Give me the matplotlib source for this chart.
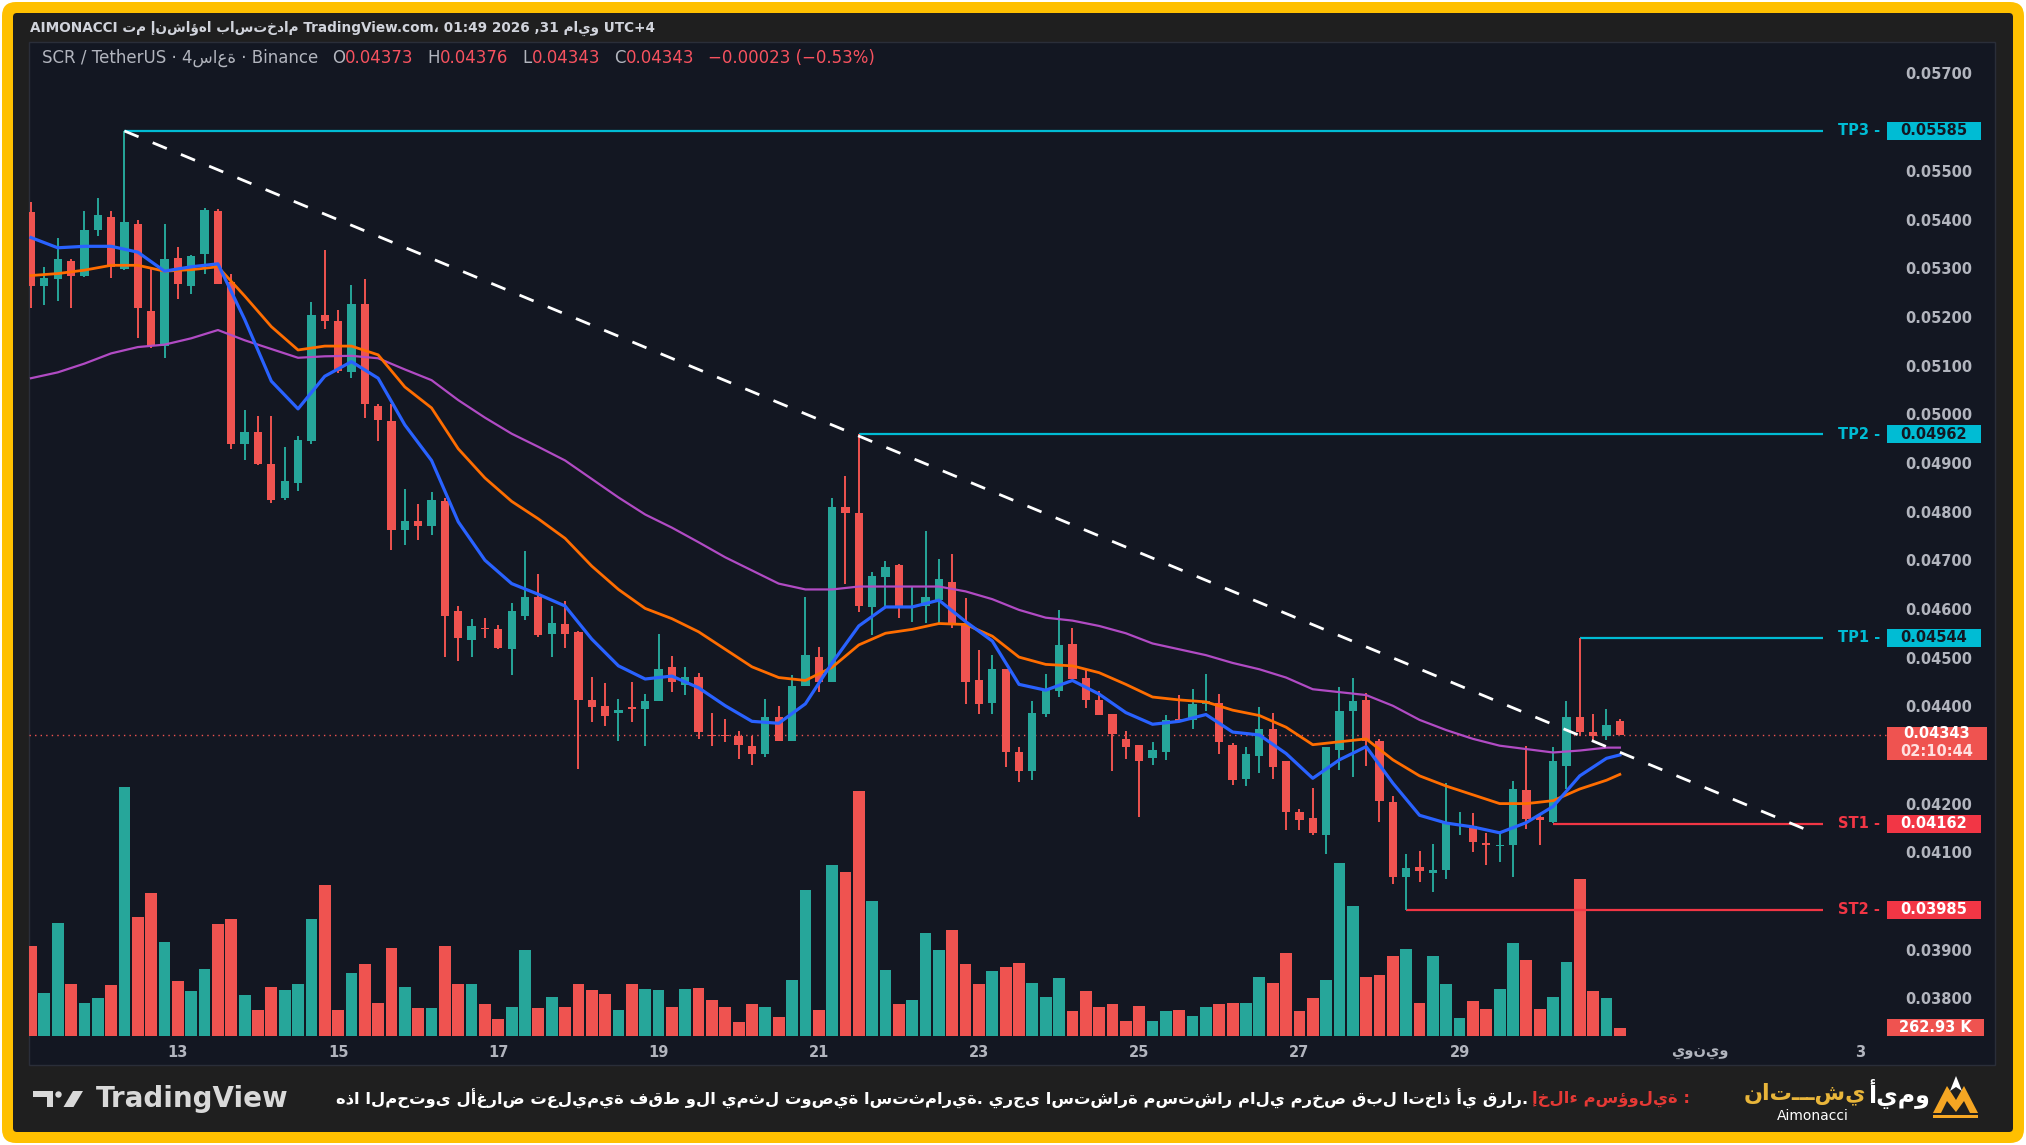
import matplotlib
matplotlib.use("Agg")
import matplotlib.pyplot as plt
import matplotlib.transforms as mtransforms
from matplotlib.patches import Rectangle, FancyBboxPatch, Polygon, Circle
import numpy as np

# ---------------- data (4h candles, SCR/USDT) ----------------
opens = [
    0.05418, 0.05266, 0.05280, 0.05318, 0.05288, 0.05381, 0.05409, 0.05301, 0.05393, 0.05216,
    0.05143, 0.05323, 0.05266, 0.05333, 0.05421, 0.05274, 0.04942, 0.04967, 0.04901, 0.04830,
    0.04862, 0.04947, 0.05207, 0.05194, 0.05089, 0.05230, 0.05019, 0.04989, 0.04766, 0.04783,
    0.04773, 0.04824, 0.04598, 0.04540, 0.04564, 0.04561, 0.04520, 0.04588, 0.04627, 0.04551,
    0.04573, 0.04555, 0.04416, 0.04404, 0.04389, 0.04402, 0.04398, 0.04414, 0.04484, 0.04447,
    0.04464, 0.04344, 0.04344, 0.04341, 0.04322, 0.04305, 0.04380, 0.04332, 0.04444, 0.04505,
    0.04452, 0.04812, 0.04800, 0.04607, 0.04669, 0.04693, 0.04607, 0.04609, 0.04621, 0.04658,
    0.04574, 0.04456, 0.04410, 0.04479, 0.04310, 0.04269, 0.04387, 0.04435, 0.04531, 0.04462,
    0.04416, 0.04387, 0.04335, 0.04323, 0.04297, 0.04310, 0.04377, 0.04375, 0.04408, 0.04410,
    0.04323, 0.04254, 0.04301, 0.04357, 0.04291, 0.04186, 0.04173, 0.04139, 0.04314, 0.04393,
    0.04416, 0.04332, 0.04206, 0.04052, 0.04072, 0.04061, 0.04066, 0.04157, 0.04157, 0.04122,
    0.04115, 0.04118, 0.04230, 0.04175, 0.04166, 0.04281, 0.04381, 0.04351, 0.04341, 0.04373,
]
highs = [
    0.05439, 0.05306, 0.05366, 0.05321, 0.05421, 0.05447, 0.05421, 0.05585, 0.05402, 0.05302,
    0.05393, 0.05347, 0.05330, 0.05427, 0.05424, 0.05292, 0.05011, 0.04999, 0.04999, 0.04936,
    0.04959, 0.05234, 0.05340, 0.05218, 0.05269, 0.05281, 0.05025, 0.05025, 0.04850, 0.04819,
    0.04843, 0.04830, 0.04609, 0.04582, 0.04585, 0.04570, 0.04615, 0.04721, 0.04675, 0.04609,
    0.04619, 0.04558, 0.04464, 0.04450, 0.04417, 0.04453, 0.04428, 0.04552, 0.04506, 0.04484,
    0.04471, 0.04389, 0.04377, 0.04353, 0.04341, 0.04417, 0.04404, 0.04468, 0.04628, 0.04525,
    0.04830, 0.04876, 0.04962, 0.04679, 0.04701, 0.04695, 0.04649, 0.04763, 0.04705, 0.04715,
    0.04625, 0.04519, 0.04508, 0.04479, 0.04320, 0.04414, 0.04470, 0.04601, 0.04563, 0.04480,
    0.04434, 0.04387, 0.04353, 0.04323, 0.04329, 0.04386, 0.04426, 0.04438, 0.04470, 0.04428,
    0.04327, 0.04320, 0.04402, 0.04389, 0.04291, 0.04191, 0.04236, 0.04320, 0.04443, 0.04461,
    0.04431, 0.04335, 0.04218, 0.04100, 0.04106, 0.04121, 0.04245, 0.04186, 0.04183, 0.04142,
    0.04146, 0.04250, 0.04322, 0.04183, 0.04320, 0.04414, 0.04544, 0.04387, 0.04398, 0.04376,
]
lows = [
    0.05222, 0.05228, 0.05236, 0.05222, 0.05284, 0.05370, 0.05282, 0.05299, 0.05159, 0.05140,
    0.05119, 0.05239, 0.05251, 0.05292, 0.05270, 0.04932, 0.04908, 0.04898, 0.04820, 0.04827,
    0.04845, 0.04942, 0.05179, 0.05087, 0.05077, 0.04995, 0.04947, 0.04725, 0.04734, 0.04745,
    0.04754, 0.04504, 0.04496, 0.04504, 0.04544, 0.04520, 0.04467, 0.04580, 0.04546, 0.04504,
    0.04522, 0.04275, 0.04371, 0.04363, 0.04332, 0.04370, 0.04321, 0.04414, 0.04432, 0.04426,
    0.04335, 0.04321, 0.04329, 0.04295, 0.04283, 0.04299, 0.04332, 0.04332, 0.04444, 0.04432,
    0.04452, 0.04655, 0.04597, 0.04549, 0.04607, 0.04585, 0.04576, 0.04574, 0.04570, 0.04564,
    0.04408, 0.04387, 0.04387, 0.04279, 0.04247, 0.04252, 0.04380, 0.04423, 0.04458, 0.04399,
    0.04386, 0.04269, 0.04295, 0.04176, 0.04283, 0.04293, 0.04373, 0.04357, 0.04394, 0.04305,
    0.04241, 0.04239, 0.04266, 0.04254, 0.04149, 0.04149, 0.04139, 0.04100, 0.04273, 0.04257,
    0.04281, 0.04166, 0.04037, 0.03985, 0.04042, 0.04022, 0.04048, 0.04139, 0.04104, 0.04076,
    0.04083, 0.04052, 0.04151, 0.04118, 0.04164, 0.04233, 0.04341, 0.04329, 0.04333, 0.04343,
]
closes = [
    0.05266, 0.05282, 0.05321, 0.05287, 0.05381, 0.05412, 0.05306, 0.05398, 0.05222, 0.05143,
    0.05321, 0.05270, 0.05328, 0.05423, 0.05270, 0.04942, 0.04967, 0.04901, 0.04827, 0.04865,
    0.04950, 0.05206, 0.05194, 0.05091, 0.05230, 0.05025, 0.04992, 0.04766, 0.04783, 0.04773,
    0.04826, 0.04588, 0.04544, 0.04568, 0.04561, 0.04522, 0.04598, 0.04628, 0.04550, 0.04574,
    0.04551, 0.04416, 0.04402, 0.04383, 0.04396, 0.04398, 0.04414, 0.04480, 0.04452, 0.04464,
    0.04351, 0.04341, 0.04341, 0.04323, 0.04305, 0.04380, 0.04332, 0.04444, 0.04508, 0.04452,
    0.04812, 0.04800, 0.04609, 0.04671, 0.04689, 0.04604, 0.04609, 0.04628, 0.04664, 0.04574,
    0.04452, 0.04408, 0.04479, 0.04310, 0.04269, 0.04389, 0.04438, 0.04528, 0.04458, 0.04416,
    0.04386, 0.04347, 0.04320, 0.04291, 0.04314, 0.04375, 0.04373, 0.04408, 0.04414, 0.04329,
    0.04252, 0.04305, 0.04357, 0.04279, 0.04186, 0.04170, 0.04142, 0.04320, 0.04393, 0.04414,
    0.04332, 0.04209, 0.04052, 0.04070, 0.04064, 0.04066, 0.04163, 0.04160, 0.04124, 0.04117,
    0.04117, 0.04233, 0.04172, 0.04170, 0.04291, 0.04380, 0.04351, 0.04341, 0.04365, 0.04343,
]
volumes_k = [
    3111, 1495, 3878, 1798, 1151, 1293, 1757, 8565, 4080, 4929,
    3232, 1899, 1535, 2323, 3858, 4040, 1414, 889, 1697, 1576,
    1798, 4020, 5191, 889, 2161, 2464, 1151, 3030, 1697, 949,
    949, 3111, 1778, 1798, 1111, 586, 1010, 2969, 949, 1333,
    1010, 1778, 1576, 1454, 889, 1778, 1616, 1576, 1010, 1616,
    1656, 1252, 990, 485, 1091, 1010, 646, 1939, 5010, 909,
    5898, 5656, 8444, 4646, 2283, 1111, 1252, 3535, 2969, 3636,
    2464, 1778, 2222, 2363, 2505, 1838, 1333, 1980, 869, 1535,
    1010, 1091, 505, 1050, 525, 848, 889, 687, 1010, 1091,
    1151, 1151, 2020, 1838, 2868, 848, 1313, 1919, 5939, 4464,
    2040, 2101, 2767, 2990, 1151, 2767, 1798, 626, 1192, 929,
    1616, 3212, 2626, 929, 1353, 2545, 5393, 1535, 1313, 263,
]

# moving averages read every second candle (+ last one)
ma_idx = list(range(0, 120, 2)) + [119]
ma_fast = [
    0.05366, 0.05345, 0.05348, 0.05348, 0.05336, 0.05297, 0.05306, 0.05312, 0.05198, 0.05071,
    0.05014, 0.05081, 0.05111, 0.05077, 0.04981, 0.04908, 0.04782, 0.04703, 0.04655, 0.04633,
    0.04609, 0.04541, 0.04486, 0.04459, 0.04465, 0.04441, 0.04404, 0.04372, 0.04368, 0.04408,
    0.04492, 0.04568, 0.04607, 0.04607, 0.04621, 0.04577, 0.04537, 0.04448, 0.04436, 0.04456,
    0.04428, 0.04390, 0.04366, 0.04372, 0.04386, 0.04350, 0.04344, 0.04306, 0.04255, 0.04293,
    0.04320, 0.04245, 0.04179, 0.04163, 0.04155, 0.04143, 0.04164, 0.04197, 0.04260, 0.04296,
    0.04303,
]
ma_mid = [
    0.05288, 0.05292, 0.05299, 0.05309, 0.05309, 0.05297, 0.05300, 0.05306, 0.05246, 0.05183,
    0.05135, 0.05143, 0.05143, 0.05125, 0.05059, 0.05016, 0.04932, 0.04872, 0.04824, 0.04788,
    0.04748, 0.04691, 0.04643, 0.04604, 0.04583, 0.04556, 0.04520, 0.04484, 0.04462, 0.04456,
    0.04483, 0.04529, 0.04553, 0.04561, 0.04573, 0.04571, 0.04547, 0.04504, 0.04489, 0.04486,
    0.04472, 0.04448, 0.04422, 0.04416, 0.04412, 0.04395, 0.04384, 0.04360, 0.04324, 0.04330,
    0.04336, 0.04293, 0.04260, 0.04239, 0.04221, 0.04203, 0.04203, 0.04209, 0.04233, 0.04251,
    0.04263,
]
ma_slow = [
    0.05077, 0.05089, 0.05107, 0.05128, 0.05141, 0.05146, 0.05159, 0.05176, 0.05155, 0.05137,
    0.05119, 0.05122, 0.05123, 0.05118, 0.05095, 0.05073, 0.05032, 0.04996, 0.04963, 0.04936,
    0.04908, 0.04870, 0.04832, 0.04797, 0.04770, 0.04740, 0.04709, 0.04682, 0.04655, 0.04643,
    0.04643, 0.04649, 0.04649, 0.04649, 0.04649, 0.04639, 0.04623, 0.04601, 0.04585, 0.04579,
    0.04568, 0.04553, 0.04532, 0.04520, 0.04508, 0.04492, 0.04479, 0.04462, 0.04438, 0.04432,
    0.04426, 0.04404, 0.04375, 0.04354, 0.04336, 0.04322, 0.04315, 0.04308, 0.04312, 0.04318,
    0.04318,
]

level_names = ["TP3", "TP2", "TP1", "ST1", "ST2"]
level_prices = [0.05585, 0.04962, 0.04544, 0.04162, 0.03985]
level_start = [7, 62, 116, 114, 103]
trend_x = [7, 133]
trend_y = [0.05585, 0.04149]
last_price = 0.04343
last_volume = "262.93 K"
countdown = "02:10:44"

day_pos = [11, 23, 35, 47, 59, 71, 83, 95, 107, 125, 137]
day_labels = ["13", "15", "17", "19", "21", "23", "25", "27", "29", "يونيو", "3"]
# scale labels that are not covered by a level / price box
price_ticks = [0.038, 0.039, 0.041, 0.042, 0.044, 0.045, 0.046, 0.047, 0.048,
               0.049, 0.050, 0.051, 0.052, 0.053, 0.054, 0.055, 0.057]

# ---------------- style ----------------
W, H = 2026, 1145
UP, DOWN = "#26A69A", "#EF5350"
PANEL = "#131722"
FRAME = "#1F1F1F"
YELLOW = "#FFC000"
GREY = "#B2B5BE"
CYAN = "#00BCD4"
RED = "#F23645"
VAL_RED = "#F7525F"

fig = plt.figure(figsize=(W / 100, H / 100), dpi=100, facecolor="white")

# background layer in pixel coordinates
bg = fig.add_axes([0, 0, 1, 1])
bg.set_xlim(0, W)
bg.set_ylim(H, 0)
bg.axis("off")
bg.add_patch(FancyBboxPatch((2, 2), W - 4, H - 4, boxstyle="round,pad=0,rounding_size=14",
                            fc=YELLOW, ec="none"))
bg.add_patch(FancyBboxPatch((13, 13), 2000, 1119, boxstyle="round,pad=0,rounding_size=4",
                            fc=FRAME, ec="none"))
bg.add_patch(Rectangle((29, 42), 1966, 1023, fc=PANEL, ec="#2A2E39", lw=1))

renderer = fig.canvas.get_renderer()


def run_text(x, y, parts, size, weight="normal", gap=0):
    # draw coloured pieces one after another, left to right
    for s, col in parts:
        t = bg.text(x, y, s, color=col, fontsize=size, fontweight=weight,
                    ha="left", va="center")
        x += t.get_window_extent(renderer=renderer).width + gap
    return x


# header line of the frame
bg.text(30, 28, "AIMONACCI تم إنشاؤها باستخدام TradingView.com، 01:49 2026 ,31 مايو UTC+4",
        color="#D1D4DC", fontsize=9.8, fontweight="bold", ha="left", va="center")

# symbol / OHLC line
x = run_text(42, 58, [("SCR / TetherUS · 4ساعة · Binance", GREY)], 12)
x += 14
for lab, val in [("O", "0.04373"), ("H", "0.04376"), ("L", "0.04343"), ("C", "0.04343")]:
    x = run_text(x, 58, [(lab, GREY), (val, VAL_RED)], 12) + 14
run_text(x, 58, [("−0.00023 (−0.53%)", VAL_RED)], 12)

# ---------------- main price axes ----------------
ax = fig.add_axes([29 / W, 1 - 1036 / H, 1966 / W, 994 / H])
vax = fig.add_axes(ax.get_position(), sharex=ax)
for a in (ax, vax):
    a.patch.set_visible(False)
    a.axis("off")
vax.set_zorder(1)
ax.set_zorder(2)

ax.set_xlim(-0.15, 147.1)
ax.set_ylim(0.037255, 0.057678)
vax.set_ylim(0, 34220)

idx = np.arange(len(opens))
o = np.array(opens)
c = np.array(closes)
hi = np.array(highs)
lo = np.array(lows)
cols = np.where(c >= o, UP, DOWN)

# volume
vax.bar(idx, volumes_k, width=0.88, color=cols, linewidth=0)

# candles
ax.vlines(idx, lo, hi, colors=cols, linewidth=1.4, zorder=3)
body_h = np.maximum(np.abs(c - o), 0.00003)
ax.bar(idx, body_h, bottom=np.minimum(o, c), width=0.62, color=cols, linewidth=0, zorder=3)

# moving averages
ax.plot(ma_idx, ma_slow, color="#B14BC4", lw=1.6, zorder=4)
ax.plot(ma_idx, ma_mid, color="#FF6D00", lw=2.0, zorder=4)
ax.plot(ma_idx, ma_fast, color="#2962FF", lw=2.3, zorder=4)

# last price dotted line
ax.hlines(last_price, -0.15, 139.0, colors=DOWN, linestyles=(0, (1, 3)), lw=1.0, zorder=1)

# trend line
ax.plot(trend_x, trend_y, color="white", lw=2.0, dashes=(5.5, 5.5), zorder=6)

yt = mtransforms.blended_transform_factory(ax.transAxes, ax.transData)
xt = mtransforms.blended_transform_factory(ax.transData, ax.transAxes)

# price scale labels
for p in price_ticks:
    ax.text(0.9883, p, f"{p:.5f}", transform=yt, color=GREY, fontsize=10.5,
            fontweight="bold", ha="right", va="center", zorder=7)

# target / stop levels
box_h = 0.00037
for name, price, start in zip(level_names, level_prices, level_start):
    col = CYAN if name.startswith("TP") else RED
    txt_col = PANEL if name.startswith("TP") else "white"
    ax.hlines(price, start, 134.2, colors=col, lw=1.6, zorder=2)
    ax.text(0.9415, price, name + " -", transform=yt, color=col, fontsize=10.5,
            fontweight="bold", ha="right", va="center", zorder=8)
    ax.add_patch(Rectangle((0.9451, price - box_h / 2), 0.0478, box_h, transform=yt,
                           fc=col, ec="none", zorder=8))
    ax.text(0.9690, price, f"{price:.5f}", transform=yt, color=txt_col, fontsize=10.5,
            fontweight="bold", ha="center", va="center", zorder=9)

# last price box with countdown
ax.add_patch(Rectangle((0.9451, last_price - 0.00051), 0.0509, 0.00068, transform=yt,
                       fc=DOWN, ec="none", zorder=8))
ax.text(0.9705, last_price + 0.00003, f"{last_price:.5f}", transform=yt, color="white",
        fontsize=10.5, fontweight="bold", ha="center", va="center", zorder=9)
ax.text(0.9705, last_price - 0.00032, countdown, transform=yt, color="#FFE0E0",
        fontsize=10.5, fontweight="bold", ha="center", va="center", zorder=9)

# last volume box
vt = mtransforms.blended_transform_factory(vax.transAxes, vax.transData)
vax.add_patch(Rectangle((0.9451, 0), 0.0494, 585, transform=vt, fc=DOWN, ec="none", zorder=8))
vax.text(0.9698, 292, last_volume, transform=vt, color="white", fontsize=10.5,
         fontweight="bold", ha="center", va="center", zorder=9)

# time axis
for pos, lab in zip(day_pos, day_labels):
    ax.text(pos, -0.0161, lab, transform=xt, color=GREY, fontsize=10.5,
            fontweight="bold", ha="center", va="center")

# ---------------- footer ----------------
LOGO = "#D9D9D9"
bg.add_patch(Polygon([(33, 1091), (53, 1091), (53, 1107), (47, 1107), (47, 1097), (33, 1097)],
                     closed=True, fc=LOGO, ec="none"))
bg.add_patch(Circle((58.5, 1094.5), 3.2, fc=LOGO, ec="none"))
bg.add_patch(Polygon([(63.5, 1107), (73, 1091), (83, 1091), (73.5, 1107)],
                     closed=True, fc=LOGO, ec="none"))
bg.text(96, 1099, "TradingView", color=LOGO, fontsize=20, fontweight="bold",
        ha="left", va="center")

red_t = bg.text(1690, 1099, "إخلاء مسؤولية :", color="#E53935", fontsize=11.8,
                fontweight="bold", ha="right", va="center")
red_w = red_t.get_window_extent(renderer=renderer).width
bg.text(1690 - red_w - 4, 1099,
        "هذا المحتوى لأغراض تعليمية فقط ولا يمثل توصية استثمارية. يرجى استشارة مستشار مالي مرخص قبل اتخاذ أي قرار.",
        color="white", fontsize=11.8, fontweight="bold", ha="right", va="center")

# Aimonacci logo
ORANGE = "#F5A623"
bg.add_patch(Polygon([(1933, 1113), (1947, 1086), (1956, 1100), (1964, 1086), (1978, 1113),
                      (1970, 1113), (1964, 1101), (1956, 1112), (1947, 1101), (1941, 1113)],
                     closed=True, fc=ORANGE, ec="none"))
bg.add_patch(Polygon([(1956, 1076), (1962, 1091), (1956, 1087), (1950, 1091)],
                     closed=True, fc="white", ec="none"))
bg.add_patch(Rectangle((1933, 1115), 45, 3, fc=ORANGE, ec="none"))
w_t = bg.text(1930, 1094, "أيمو", color="white", fontsize=17, fontweight="bold",
              ha="right", va="center")
w_w = w_t.get_window_extent(renderer=renderer).width
bg.text(1930 - w_w - 2, 1094, "ناتـــشي", color="#E8B53A", fontsize=16, fontweight="bold",
        ha="right", va="center")
bg.text(1777, 1116, "Aimonacci", color="white", fontsize=10, ha="left", va="center")

fig.savefig("out.png", dpi=100, facecolor=fig.get_facecolor())
